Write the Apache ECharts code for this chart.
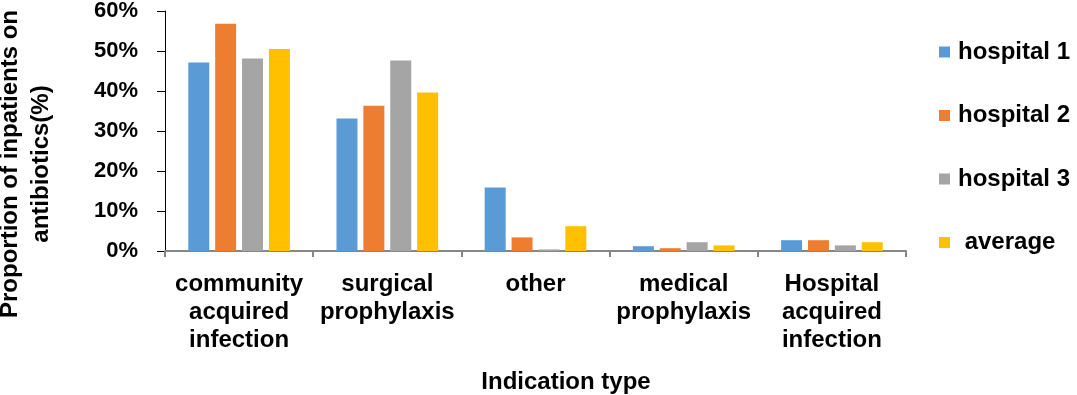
<!DOCTYPE html>
<html>
<head>
<meta charset="utf-8">
<script src="https://cdn.jsdelivr.net/npm/echarts@6/dist/echarts.min.js"></script>
<style>
  html, body { margin: 0; padding: 0; background: #fff; }
  #main { width: 1077px; height: 395px; }
</style>
</head>
<body>
<div id="main"></div>
<script>
// categories on the x axis
const categories = [
  'community\nacquired\ninfection',
  'surgical\nprophylaxis',
  'other',
  'medical\nprophylaxis',
  'Hospital\nacquired\ninfection'
];

// proportion of inpatients on antibiotics (%)
const hospital1 = [47.1, 33.1, 15.9, 1.2, 2.7];
const hospital2 = [56.8, 36.3, 3.4, 0.7, 2.7];
const hospital3 = [48.1, 47.6, 0.4, 2.2, 1.4];
const average = [50.5, 39.6, 6.2, 1.4, 2.2];

const seriesNames = ['hospital 1', 'hospital 2', 'hospital 3', 'average'];
const colors = ['#5B9BD5', '#ED7D31', '#A5A5A5', '#FFC000'];

const font = '"Liberation Sans", Arial, sans-serif';

const chartDom = document.getElementById('main');
const myChart = echarts.init(chartDom);

const option = {
  animation: false,
  textStyle: { fontFamily: font },
  grid: { left: 165, right: 171, top: 10, bottom: 144 },
  legend: {
    orient: 'vertical',
    left: 939,
    top: 40,
    padding: 0,
    itemWidth: 11,
    itemHeight: 11,
    itemGap: 39.5,
    icon: 'rect',
    data: seriesNames,
    formatter: function (name) {
      return name === 'average' ? ' ' + name : name;
    },
    textStyle: {
      fontFamily: font,
      fontSize: 24,
      fontWeight: 'bold',
      color: '#000',
      lineHeight: 24,
      padding: [0, 0, 0, 3]
    }
  },
  xAxis: {
    type: 'category',
    data: categories,
    axisLine: { lineStyle: { color: '#868686', width: 2 } },
    axisTick: { show: true, length: 6, lineStyle: { color: '#868686', width: 2 } },
    axisLabel: {
      margin: 19,
      interval: 0,
      fontFamily: font,
      fontSize: 24,
      fontWeight: 'bold',
      color: '#000',
      lineHeight: 28
    }
  },
  yAxis: {
    type: 'value',
    min: 0,
    max: 60,
    interval: 10,
    splitLine: { show: false },
    axisLine: { show: true, lineStyle: { color: '#000', width: 1 } },
    axisTick: { show: true, length: 8, lineStyle: { color: '#000' } },
    axisLabel: {
      margin: 27,
      formatter: '{value}%',
      fontFamily: font,
      fontSize: 22,
      fontWeight: 'bold',
      color: '#000'
    }
  },
  graphic: [
    {
      type: 'text',
      x: 26,
      y: 164,
      rotation: Math.PI / 2,
      style: {
        text: 'Proportion of inpatients on\nantibiotics(%)',
        font: 'bold 24px ' + font,
        fill: '#000',
        align: 'center',
        verticalAlign: 'middle',
        lineHeight: 31
      }
    },
    {
      type: 'text',
      x: 566,
      y: 382,
      style: {
        text: 'Indication type',
        font: 'bold 24px ' + font,
        fill: '#000',
        align: 'center',
        verticalAlign: 'middle'
      }
    }
  ],
  series: [hospital1, hospital2, hospital3, average].map(function (values, i) {
    return {
      name: seriesNames[i],
      type: 'bar',
      data: values,
      barWidth: 21,
      barGap: '28%',
      itemStyle: { color: colors[i] }
    };
  })
};

option && myChart.setOption(option);
</script>
</body>
</html>
